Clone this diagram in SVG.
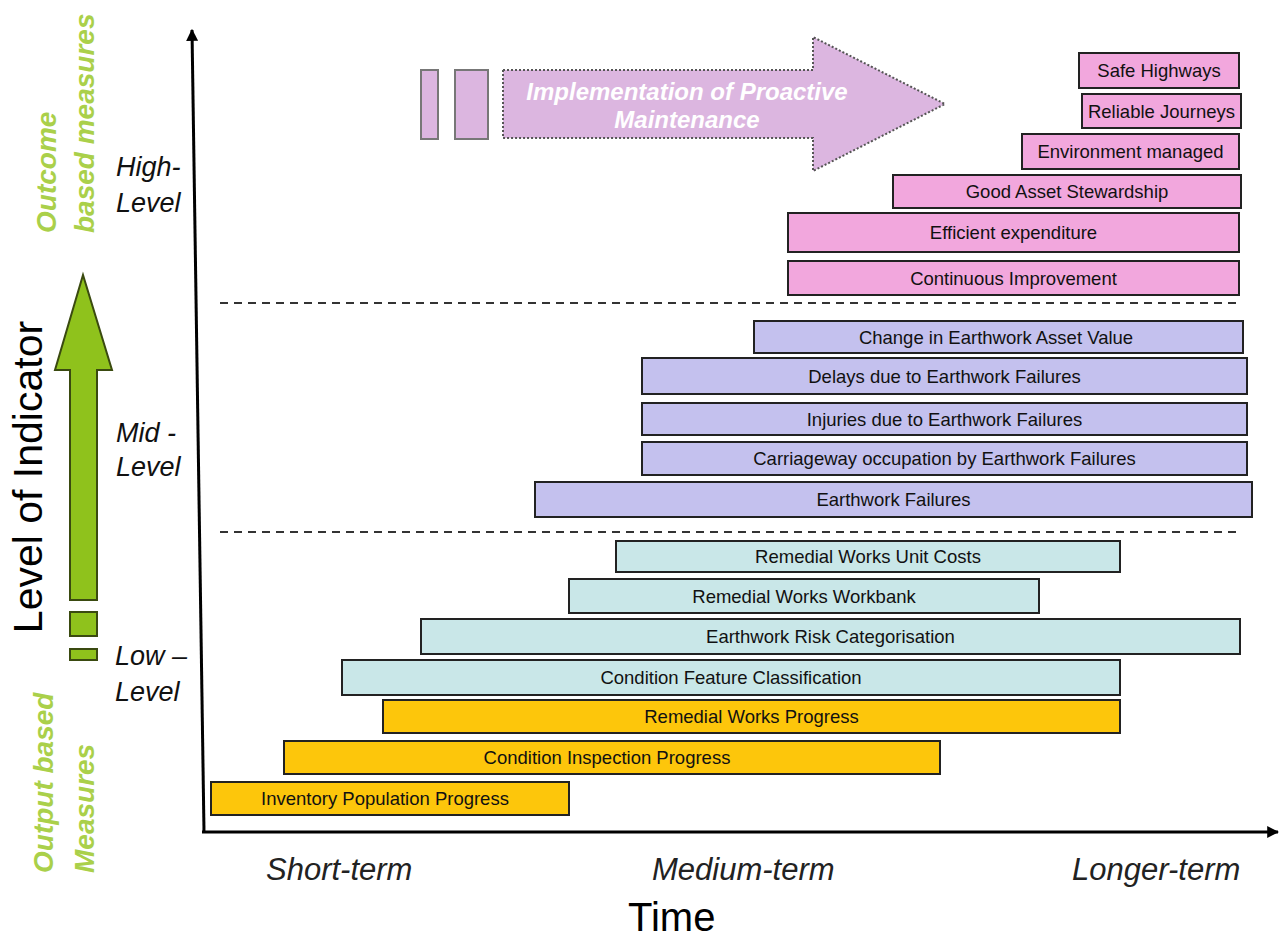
<svg xmlns="http://www.w3.org/2000/svg" width="1284" height="938" viewBox="0 0 1284 938">
<style>
  .bar { stroke: #222; stroke-width: 2; }
  .pink { fill: #f2a7dd; }
  .purple { fill: #c4c1ee; }
  .cyan { fill: #c9e7e8; }
  .orange { fill: #fdc60b; }
  .bt { font-family: "Liberation Sans", Arial, sans-serif; font-size: 18.5px; fill: #111; text-anchor: middle; }
  .lvl { font-family: "Liberation Sans", Arial, sans-serif; font-size: 27px; font-style: italic; fill: #111; }
  .term { font-family: "Liberation Sans", Arial, sans-serif; font-size: 31px; font-style: italic; fill: #222; }
  .grn { font-family: "Liberation Sans", Arial, sans-serif; font-size: 28px; font-style: italic; font-weight: bold; fill: #aad04a; }
  .dash { stroke: #333; stroke-width: 2; stroke-dasharray: 8 6; fill: none; }
  .axis { stroke: #000; stroke-width: 3; fill: none; }
</style>
<defs>
  <marker id="ah" viewBox="0 0 10 10" refX="9" refY="5" markerWidth="4" markerHeight="4" orient="auto" markerUnits="strokeWidth">
    <path d="M0,0 L10,5 L0,10 z" fill="#000"/>
  </marker>
</defs>
<rect x="0" y="0" width="1284" height="938" fill="#fff"/>

<g id="connectors">
  <path class="axis" d="M204,832 L192,30" marker-end="url(#ah)"/>
  <path class="axis" d="M202,832 L1278,832" marker-end="url(#ah)"/>
  <line class="dash" x1="220" y1="303" x2="1238" y2="303"/>
  <line class="dash" x1="220" y1="532" x2="1238" y2="532"/>
</g>

<g id="level-of-indicator">
  <text transform="translate(42,477) rotate(-90)" font-family="Liberation Sans, Arial, sans-serif" font-size="41" fill="#000" text-anchor="middle">Level of Indicator</text>
</g>

<g id="outcome-label">
  <text class="grn" transform="translate(56,233) rotate(-90)">Outcome</text>
  <text class="grn" transform="translate(94,233) rotate(-90)">based measures</text>
</g>
<g id="output-label">
  <text class="grn" transform="translate(53,873) rotate(-90)">Output based</text>
  <text class="grn" transform="translate(94,873) rotate(-90)">Measures</text>
</g>

<g id="green-arrow" fill="#8fc21c" stroke="#3a4a10" stroke-width="2">
  <polygon points="70,600 70,370 55,370 83,275 112,370 97,370 97,600"/>
  <rect x="70" y="612" width="27" height="24"/>
  <rect x="70" y="649" width="27" height="11"/>
</g>

<g id="level-labels">
  <text class="lvl" x="116" y="176">High-</text>
  <text class="lvl" x="116" y="212">Level</text>
  <text class="lvl" x="116" y="442">Mid -</text>
  <text class="lvl" x="116" y="476">Level</text>
  <text class="lvl" x="115" y="665">Low –</text>
  <text class="lvl" x="115" y="701">Level</text>
</g>

<g id="time-labels">
  <text class="term" x="266" y="880">Short-term</text>
  <text class="term" x="652" y="880">Medium-term</text>
  <text class="term" x="1072" y="880">Longer-term</text>
  <text x="628" y="931" font-family="Liberation Sans, Arial, sans-serif" font-size="40" fill="#000">Time</text>
</g>

<g id="proactive-arrow">
  <rect x="421" y="70" width="17" height="69" fill="#dcb6e0" stroke="#777" stroke-width="2"/>
  <rect x="455" y="70" width="33" height="69" fill="#dcb6e0" stroke="#777" stroke-width="2"/>
  <polygon points="503,70 813,70 813,37 945,104 813,171 813,138 503,138" fill="#dcb6e0" stroke="#555" stroke-width="2" stroke-dasharray="2 2"/>
  <text x="687" y="100" font-family="Liberation Sans, Arial, sans-serif" font-size="24" font-style="italic" font-weight="bold" fill="#fff" text-anchor="middle">Implementation of Proactive</text>
  <text x="687" y="128" font-family="Liberation Sans, Arial, sans-serif" font-size="24" font-style="italic" font-weight="bold" fill="#fff" text-anchor="middle">Maintenance</text>
</g>

<g id="safe-highways"><rect class="bar pink" x="1079" y="53" width="160" height="35"/><text class="bt" x="1159" y="77">Safe Highways</text></g>
<g id="reliable-journeys"><rect class="bar pink" x="1082" y="94" width="159" height="34"/><text class="bt" x="1161.5" y="117.5">Reliable Journeys</text></g>
<g id="environment-managed"><rect class="bar pink" x="1022" y="134" width="217" height="35"/><text class="bt" x="1130.5" y="158">Environment managed</text></g>
<g id="good-asset-stewardship"><rect class="bar pink" x="893" y="175" width="348" height="33"/><text class="bt" x="1067" y="198">Good Asset Stewardship</text></g>
<g id="efficient-expenditure"><rect class="bar pink" x="788" y="213" width="451" height="39"/><text class="bt" x="1013.5" y="239">Efficient expenditure</text></g>
<g id="continuous-improvement"><rect class="bar pink" x="788" y="261" width="451" height="34"/><text class="bt" x="1013.5" y="284.5">Continuous Improvement</text></g>

<g id="change-asset-value"><rect class="bar purple" x="754" y="321" width="489" height="32"/><text class="bt" x="996" y="343.5">Change in Earthwork Asset Value</text></g>
<g id="delays"><rect class="bar purple" x="642" y="358" width="605" height="36"/><text class="bt" x="944.5" y="382.5">Delays due to Earthwork Failures</text></g>
<g id="injuries"><rect class="bar purple" x="642" y="403" width="605" height="32"/><text class="bt" x="944.5" y="425.5">Injuries due to Earthwork Failures</text></g>
<g id="carriageway"><rect class="bar purple" x="642" y="442" width="605" height="33"/><text class="bt" x="944.5" y="465">Carriageway occupation by Earthwork Failures</text></g>
<g id="earthwork-failures"><rect class="bar purple" x="535" y="482" width="717" height="35"/><text class="bt" x="893.5" y="506">Earthwork Failures</text></g>

<g id="unit-costs"><rect class="bar cyan" x="616" y="541" width="504" height="31"/><text class="bt" x="868" y="563">Remedial Works Unit Costs</text></g>
<g id="workbank"><rect class="bar cyan" x="569" y="579" width="470" height="34"/><text class="bt" x="804" y="602.5">Remedial Works Workbank</text></g>
<g id="risk-categorisation"><rect class="bar cyan" x="421" y="619" width="819" height="35"/><text class="bt" x="830.5" y="643">Earthwork Risk Categorisation</text></g>
<g id="feature-classification"><rect class="bar cyan" x="342" y="660" width="778" height="35"/><text class="bt" x="731" y="684">Condition Feature Classification</text></g>

<g id="remedial-progress"><rect class="bar orange" x="383" y="700" width="737" height="33"/><text class="bt" x="751.5" y="723">Remedial Works Progress</text></g>
<g id="inspection-progress"><rect class="bar orange" x="284" y="741" width="656" height="33"/><text class="bt" x="607" y="764">Condition Inspection Progress</text></g>
<g id="inventory-progress"><rect class="bar orange" x="211" y="782" width="358" height="33"/><text class="bt" x="385" y="805">Inventory Population Progress</text></g>
</svg>
